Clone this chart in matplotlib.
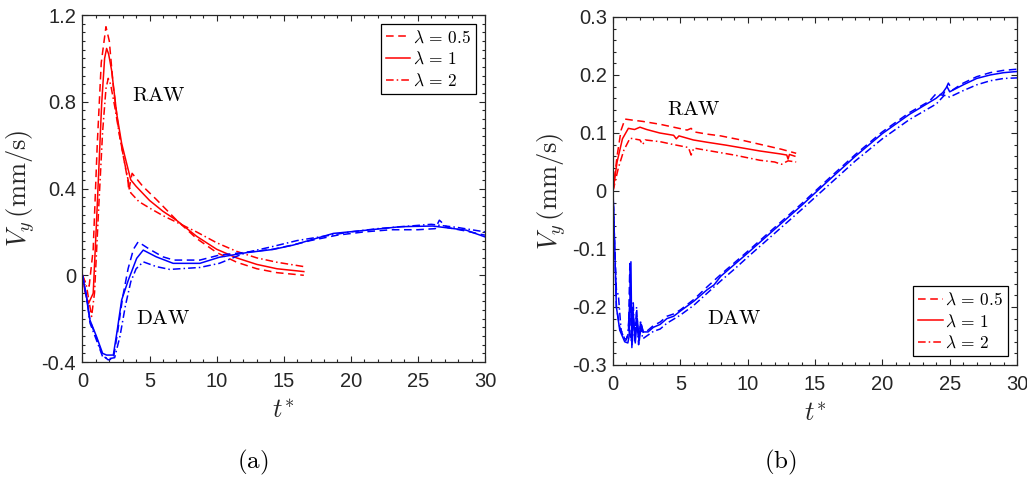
import numpy as np
import matplotlib
matplotlib.use("Agg")
import matplotlib.pyplot as plt
from matplotlib.ticker import MultipleLocator

plt.rcParams["font.family"] = ["Liberation Sans", "DejaVu Sans"]
plt.rcParams["mathtext.fontset"] = "cm"
plt.rcParams["axes.unicode_minus"] = False

# ========================
# データ (a)
# ========================
a_red05_t = [0, 0.2, 0.5, 0.8, 1.1, 1.4, 1.75, 2.0, 2.3, 2.7, 3.1, 3.4, 3.45, 3.7, 4.5, 5.5, 7, 8.5, 10, 11.5, 13, 14.5, 16.5]
a_red05_v = [0, -0.03, -0.05, 0.12, 0.6, 0.98, 1.146, 1.08, 0.87, 0.67, 0.53, 0.43, 0.39, 0.47, 0.41, 0.35, 0.255, 0.17, 0.105, 0.06, 0.03, 0.012, 0.0]

a_red1_t = [0, 0.2, 0.45, 0.8, 1.05, 1.43, 1.65, 1.8, 1.95, 2.17, 2.55, 2.92, 3.29, 3.6, 4.0, 5.0, 6.0, 7.0, 8.5, 10, 11.5, 13, 14.5, 16.5]
a_red1_v = [0, -0.08, -0.13, -0.083, 0.25, 0.79, 1.0, 1.046, 1.02, 0.946, 0.746, 0.608, 0.516, 0.44, 0.41, 0.345, 0.295, 0.254, 0.18, 0.12, 0.08, 0.05, 0.03, 0.017]

a_red2_t = [0, 0.3, 0.68, 0.9, 1.2, 1.5, 1.75, 1.92, 2.1, 2.4, 2.8, 3.2, 3.6, 4.2, 5.0, 6.0, 7.0, 8.5, 10, 11.5, 13, 14.5, 16.5]
a_red2_v = [0, -0.05, -0.19, -0.08, 0.3, 0.66, 0.86, 0.908, 0.88, 0.78, 0.63, 0.5, 0.38, 0.34, 0.31, 0.275, 0.245, 0.2, 0.15, 0.11, 0.08, 0.06, 0.04]

a_blue05_t = [0, 0.3, 0.56, 1.05, 1.5, 1.92, 2.3, 2.6, 3.0, 3.4, 3.8, 4.15, 5.0, 6.0, 6.8, 8.75, 10.2, 12.2, 14.2, 15.7, 17, 19, 21, 23, 25, 26.3, 26.6, 27.2, 28.5, 30]
a_blue05_v = [0, -0.1, -0.21, -0.29, -0.37, -0.39, -0.385, -0.27, -0.1, 0.03, 0.12, 0.154, 0.12, 0.085, 0.07, 0.07, 0.093, 0.106, 0.12, 0.14, 0.16, 0.185, 0.2, 0.21, 0.21, 0.215, 0.254, 0.22, 0.205, 0.185]

a_blue1_t = [0, 0.3, 0.56, 1.05, 1.5, 1.8, 2.3, 2.6, 2.92, 3.42, 4.04, 4.53, 5.5, 6.76, 8.75, 10.2, 12.2, 14.2, 15.7, 16.8, 18.7, 21.2, 23.7, 26.1, 28.6, 30]
a_blue1_v = [0, -0.1, -0.207, -0.283, -0.36, -0.368, -0.368, -0.25, -0.114, -0.022, 0.078, 0.116, 0.085, 0.055, 0.055, 0.083, 0.104, 0.119, 0.139, 0.159, 0.193, 0.208, 0.224, 0.227, 0.208, 0.177]

a_blue2_t = [0, 0.3, 0.56, 1.05, 1.5, 1.95, 2.4, 2.8, 3.2, 3.6, 4.0, 4.53, 5.5, 6.5, 8.75, 10.2, 12.2, 14, 16, 18, 20, 22, 24, 26, 28, 30]
a_blue2_v = [0, -0.1, -0.22, -0.3, -0.375, -0.385, -0.38, -0.28, -0.14, -0.03, 0.03, 0.062, 0.04, 0.027, 0.036, 0.055, 0.105, 0.13, 0.16, 0.18, 0.2, 0.215, 0.225, 0.235, 0.22, 0.2]

# ========================
# データ (b)
# ========================
b_red05_t = [0, 0.3, 0.6, 0.89, 1.5, 2.2, 3.5, 4.5, 5.5, 5.8, 6.0, 7, 8, 9.5, 11, 12.5, 13.6]
b_red05_v = [0, 0.06, 0.105, 0.124, 0.122, 0.12, 0.115, 0.11, 0.105, 0.108, 0.102, 0.098, 0.095, 0.088, 0.08, 0.072, 0.065]

b_red1_t = [0, 0.3, 0.7, 1.14, 1.6, 2.0, 2.5, 3.47, 4.5, 4.7, 4.9, 5.96, 7, 8.4, 10.9, 12.4, 12.9, 13.0, 13.1, 13.5]
b_red1_v = [0, 0.05, 0.09, 0.108, 0.106, 0.11, 0.106, 0.1, 0.096, 0.09, 0.095, 0.088, 0.084, 0.079, 0.069, 0.064, 0.062, 0.055, 0.063, 0.06]

b_red2_t = [0, 0.4, 0.8, 1.26, 2.0, 2.2, 2.4, 3.5, 4.5, 5.6, 5.8, 6.0, 7.5, 9, 10.9, 12.0, 12.5, 13.0, 13.6]
b_red2_v = [0, 0.04, 0.07, 0.091, 0.088, 0.08, 0.088, 0.085, 0.08, 0.075, 0.062, 0.074, 0.068, 0.062, 0.053, 0.05, 0.046, 0.052, 0.05]

b_blue05_t = [0, 0.13, 0.25, 0.5, 0.87, 1.0, 1.15, 1.25, 1.35, 1.45, 1.6, 1.75, 1.9, 2.05, 2.25, 2.6, 3, 3.5, 4, 4.5, 5, 6, 7, 8, 9, 10, 12, 14, 16, 18, 20, 22, 23.5, 24, 24.5, 24.9, 25.2, 26, 27, 28, 29, 30]
b_blue05_v = [0, -0.1, -0.2, -0.235, -0.255, -0.255, -0.24, -0.125, -0.26, -0.2, -0.25, -0.215, -0.26, -0.225, -0.245, -0.24, -0.232, -0.226, -0.216, -0.212, -0.205, -0.187, -0.165, -0.144, -0.124, -0.104, -0.063, -0.022, 0.021, 0.063, 0.102, 0.135, 0.155, 0.168, 0.165, 0.186, 0.174, 0.186, 0.197, 0.204, 0.208, 0.21]

b_blue1_t = [0, 0.13, 0.25, 0.5, 0.87, 1.1, 1.2, 1.33, 1.4, 1.5, 1.65, 1.8, 1.95, 2.1, 2.25, 2.6, 3, 3.5, 4, 4.5, 5, 6, 7, 7.5, 8, 9, 10, 12, 14, 16, 18, 20, 22, 24, 24.5, 24.8, 25, 26, 27, 28, 29, 30]
b_blue1_v = [0, -0.1, -0.2, -0.24, -0.26, -0.262, -0.25, -0.122, -0.27, -0.21, -0.262, -0.22, -0.258, -0.23, -0.243, -0.243, -0.235, -0.23, -0.22, -0.216, -0.207, -0.19, -0.17, -0.162, -0.147, -0.127, -0.107, -0.066, -0.025, 0.018, 0.06, 0.099, 0.132, 0.16, 0.17, 0.18, 0.171, 0.183, 0.194, 0.2, 0.204, 0.206]

b_blue2_t = [0, 0.1, 0.25, 0.4, 0.6, 0.9, 1.1, 1.3, 1.4, 1.5, 1.6, 1.75, 1.9, 2.05, 2.2, 2.5, 3, 3.5, 4, 5, 6, 7, 8, 9, 10, 12, 14, 16, 18, 20, 22, 24, 24.6, 25, 26, 27, 28, 29, 30]
b_blue2_v = [0, -0.08, -0.17, -0.18, -0.24, -0.26, -0.25, -0.17, -0.265, -0.19, -0.26, -0.2, -0.265, -0.225, -0.255, -0.25, -0.242, -0.238, -0.228, -0.214, -0.197, -0.176, -0.155, -0.135, -0.114, -0.073, -0.032, 0.01, 0.052, 0.09, 0.123, 0.15, 0.165, 0.162, 0.173, 0.183, 0.19, 0.194, 0.195]

lam_labels = [r"$\lambda\,=\,0.5$", r"$\lambda\,=\,1$", r"$\lambda\,=\,2$"]

a_yticks = [-0.4, 0, 0.4, 0.8, 1.2]
a_yticklabels = ["-0.4", "0", "0.4", "0.8", "1.2"]
b_yticks = [-0.3, -0.2, -0.1, 0, 0.1, 0.2, 0.3]
b_yticklabels = ["-0.3", "-0.2", "-0.1", "0", "0.1", "0.2", "0.3"]
xticks = [0, 5, 10, 15, 20, 25, 30]

# ========================
# 描画
# ========================
AXC = "#262626"
LW = 1.1
DASH = (0, (5, 3))
DASHDOT = (0, (5, 2, 1, 2))

fig = plt.figure(figsize=(10.27, 4.8), dpi=100)
ax1 = fig.add_axes([0.0803, 0.2458, 0.3919, 0.7229])
ax2 = fig.add_axes([0.5969, 0.2396, 0.3934, 0.7250])


def style_axes(ax, yticks, ylabels, ylim, yminor):
    ax.set_xlim(0, 30)
    ax.set_ylim(*ylim)
    ax.set_xticks(xticks)
    ax.set_xticklabels([str(x) for x in xticks])
    ax.set_yticks(yticks)
    ax.set_yticklabels(ylabels)
    ax.xaxis.set_minor_locator(MultipleLocator(1))
    ax.yaxis.set_minor_locator(MultipleLocator(yminor))
    ax.tick_params(which="both", direction="in", top=True, right=True,
                   color=AXC, labelcolor=AXC, labelsize=14.5, width=0.8)
    ax.tick_params(which="major", length=4.5)
    ax.tick_params(which="minor", length=2.5)
    ax.tick_params(axis="x", pad=7)
    ax.tick_params(axis="y", pad=4.5)
    for s in ax.spines.values():
        s.set_color(AXC)
        s.set_linewidth(0.9)
    ax.set_xlabel(r"$t^{*}$", fontsize=19, color=AXC, labelpad=6)
    ax.set_ylabel(r"$V_y\,(\mathrm{mm/s})$", fontsize=19, color=AXC, labelpad=3)


# (a)
l1, = ax1.plot(a_red05_t, a_red05_v, color="red", lw=LW, ls=DASH)
l2, = ax1.plot(a_red1_t, a_red1_v, color="red", lw=LW, ls="-")
l3, = ax1.plot(a_red2_t, a_red2_v, color="red", lw=LW, ls=DASHDOT)
ax1.plot(a_blue05_t, a_blue05_v, color="blue", lw=LW, ls=DASH)
ax1.plot(a_blue1_t, a_blue1_v, color="blue", lw=LW, ls="-")
ax1.plot(a_blue2_t, a_blue2_v, color="blue", lw=LW, ls=DASHDOT)
style_axes(ax1, a_yticks, a_yticklabels, (-0.4, 1.2), 0.04)
ax1.text(3.69, 0.83, r"$\mathrm{RAW}$", fontsize=15, va="center", ha="left")
ax1.text(3.99, -0.2, r"$\mathrm{DAW}$", fontsize=15, va="center", ha="left")
leg1 = ax1.legend([l1, l2, l3], lam_labels, loc="upper right", fontsize=12.5,
                  handlelength=1.4, handletextpad=0.15, borderpad=0.3,
                  labelspacing=0.3, borderaxespad=0.5, fancybox=False,
                  framealpha=1, edgecolor="black")
leg1.get_frame().set_linewidth(0.9)

# (b)
m1, = ax2.plot(b_red05_t, b_red05_v, color="red", lw=LW, ls=DASH)
m2, = ax2.plot(b_red1_t, b_red1_v, color="red", lw=LW, ls="-")
m3, = ax2.plot(b_red2_t, b_red2_v, color="red", lw=LW, ls=DASHDOT)
ax2.plot(b_blue05_t, b_blue05_v, color="blue", lw=LW, ls=DASH)
ax2.plot(b_blue1_t, b_blue1_v, color="blue", lw=LW, ls="-")
ax2.plot(b_blue2_t, b_blue2_v, color="blue", lw=LW, ls=DASHDOT)
style_axes(ax2, b_yticks, b_yticklabels, (-0.3, 0.3), 0.02)
ax2.text(3.99, 0.141, r"$\mathrm{RAW}$", fontsize=15, va="center", ha="left")
ax2.text(6.96, -0.219, r"$\mathrm{DAW}$", fontsize=15, va="center", ha="left")
leg2 = ax2.legend([m1, m2, m3], lam_labels, loc="lower right", fontsize=12.5,
                  handlelength=1.4, handletextpad=0.15, borderpad=0.3,
                  labelspacing=0.3, borderaxespad=0.5, fancybox=False,
                  framealpha=1, edgecolor="black")
leg2.get_frame().set_linewidth(0.9)

fig.text(253 / 1027, 1 - 462 / 480, r"$\mathrm{(a)}$", fontsize=18, ha="center", va="center")
fig.text(780 / 1027, 1 - 462 / 480, r"$\mathrm{(b)}$", fontsize=18, ha="center", va="center")

plt.savefig("out.png", dpi=100)
plt.close()
